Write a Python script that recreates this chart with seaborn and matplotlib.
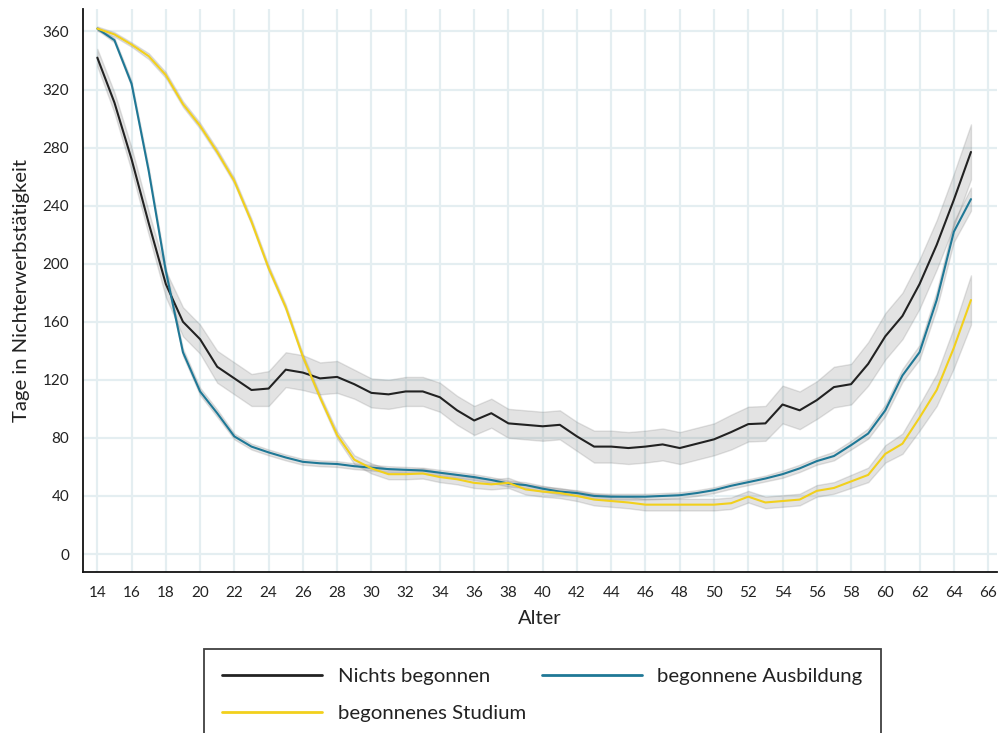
import matplotlib
matplotlib.use("Agg")
import matplotlib.pyplot as plt
from matplotlib.lines import Line2D
import numpy as np
import pandas as pd
import seaborn as sns

# ---- data -------------------------------------------------------------
alter = list(range(14, 66))

nichts_begonnen = [
    342, 311, 272, 228, 186, 160, 148, 129, 121, 113,
    114, 127, 125, 121, 122, 117, 111, 110, 112, 112,
    108, 99, 92, 97, 90, 89, 88, 89, 81, 74,
    74, 73, 74, 75.5, 73, 76, 79, 84, 89.5, 90,
    103, 99, 106, 115, 117, 131, 150, 164, 186, 213,
    244, 277,
]
nichts_ci = [
    6, 7, 8, 8, 9, 10, 10, 11, 11, 11,
    12, 12, 12, 11, 11, 10, 10, 10, 10, 10,
    10, 10, 10, 10, 10, 10, 10, 10, 10, 11,
    11, 11, 11, 11, 11, 11, 11, 12, 12, 12,
    13, 13, 13, 14, 14, 15, 16, 16, 17, 17,
    18, 19,
]

ausbildung = [
    362, 354, 324, 264, 195, 139, 112, 97, 81, 74,
    70, 66.5, 63.5, 62.5, 62, 60.5, 59.5, 58.5, 58, 57.5,
    56, 54.5, 53, 51, 48.5, 47.5, 45, 43, 42, 40,
    39.5, 39.5, 39.5, 40, 40.5, 42, 44, 47, 49.5, 52,
    55, 59, 64, 67.5, 75, 83, 99, 123, 139, 175,
    222, 244.5,
]
ausbildung_ci = [
    1, 1.5, 2, 2.5, 2.5, 2.5, 2.5, 2.5, 2, 2,
    2, 2, 2, 2, 2, 2, 2, 2, 2, 2,
    2, 2, 2, 2, 2, 2, 2, 2, 2, 2,
    2, 2, 2, 2, 2, 2, 2, 2, 2, 2,
    2.5, 2.5, 2.5, 3, 3, 3.5, 4, 4.5, 5, 6,
    7, 8,
]

studium = [
    362, 358, 351, 343, 330, 310, 295, 277, 257, 229,
    197, 170, 136, 108, 82, 65, 59, 55, 55, 55.5,
    53, 51.5, 49, 48, 49, 44.5, 43, 42, 40, 37.5,
    36.5, 35.5, 34, 34, 34, 34, 34, 35, 39.5, 35.5,
    36.5, 37.5, 43.5, 45.5, 50, 54.5, 69, 76, 94, 113,
    142, 175,
]
studium_ci = [
    1.5, 1.5, 1.5, 2, 2, 2, 2, 2, 2, 2,
    2, 2, 2, 2, 2.5, 3, 3.5, 3.5, 3.5, 3.5,
    3.5, 3.5, 3.5, 3.5, 3.5, 3.5, 3.5, 3.5, 3.5, 4,
    4, 4, 4, 4, 4, 4, 4, 4, 4, 4,
    4, 4, 4, 4, 4.5, 5, 6, 7, 9, 11,
    14, 17,
]

gruppen = ["Nichts begonnen", "begonnene Ausbildung", "begonnenes Studium"]
farben = ["#222222", "#1f7896", "#f2d01c"]
y_ticks = list(range(0, 361, 40))
x_ticks = list(range(14, 67, 2))

# long table: lower bound, estimate and upper bound per age and group
rows = []
for name, mid, ci in zip(gruppen,
                         [nichts_begonnen, ausbildung, studium],
                         [nichts_ci, ausbildung_ci, studium_ci]):
    for a, m, c in zip(alter, mid, ci):
        for v in (m - c, m, m + c):
            rows.append({"Alter": a, "Tage": v, "Gruppe": name})
df = pd.DataFrame(rows)

# ---- style ------------------------------------------------------------
sns.set_theme(style="white")
plt.rcParams["font.family"] = ["Lato", "DejaVu Sans"]

W, H = 998, 733
fig = plt.figure(figsize=(W / 100, H / 100), dpi=100)
ax = fig.add_axes([83 / W, 1 - 572 / H, (997 - 83) / W, (572 - 9) / H])

ax.set_axisbelow(True)
for t in x_ticks:
    ax.axvline(t, color="#e4eef1", lw=1.6, zorder=0)
for t in y_ticks:
    ax.axhline(t, color="#e4eef1", lw=1.6, zorder=0)

sns.lineplot(
    data=df, x="Alter", y="Tage", hue="Gruppe", hue_order=gruppen,
    palette=farben, estimator="median",
    errorbar=lambda v: (v.min(), v.max()),
    lw=1.5, legend=False, ax=ax,
)

# neutral grey confidence bands
for coll in ax.collections:
    coll.set_facecolor((0.45, 0.45, 0.45, 0.16))
    coll.set_edgecolor((0.45, 0.45, 0.45, 0.22))
    coll.set_linewidth(1.0)

ax.set_xlim(13.165, 66.52)
ax.set_ylim(-12.4, 375.5)
ax.set_xticks(x_ticks)
ax.set_yticks(y_ticks)

for side in ("top", "right"):
    ax.spines[side].set_visible(False)
for side in ("left", "bottom"):
    ax.spines[side].set_color("#111111")
    ax.spines[side].set_linewidth(1.3)

ax.tick_params(axis="both", direction="out", length=5, width=1,
               color="#111111", labelsize=11, labelcolor="#222222", pad=5)

ax.set_xlabel("Alter", fontsize=14.5, color="#222222", labelpad=7)
ax.set_ylabel("Tage in Nichterwerbstätigkeit", fontsize=14.6, color="#222222",
              labelpad=9)

# legend below the plot, columns: [Nichts, Studium] | [Ausbildung]
handles = [
    Line2D([], [], color=farben[0], lw=2),
    Line2D([], [], color=farben[2], lw=2),
    Line2D([], [], color=farben[1], lw=2),
]
labels = [gruppen[0], gruppen[2], gruppen[1]]
leg = fig.legend(
    handles, labels, ncol=2, loc="upper left",
    bbox_to_anchor=(204 / W, 0, (881 - 204) / W, 1 - 649 / H),
    mode="expand", borderaxespad=0, fontsize=14.7,
    handlelength=4.9, handletextpad=0.74, borderpad=0.9,
    labelspacing=1.0, frameon=True, fancybox=False,
)
leg.get_frame().set_edgecolor("#111111")
leg.get_frame().set_linewidth(1.3)
for txt in leg.get_texts():
    txt.set_color("#222222")

fig.savefig("out.png", dpi=100)
